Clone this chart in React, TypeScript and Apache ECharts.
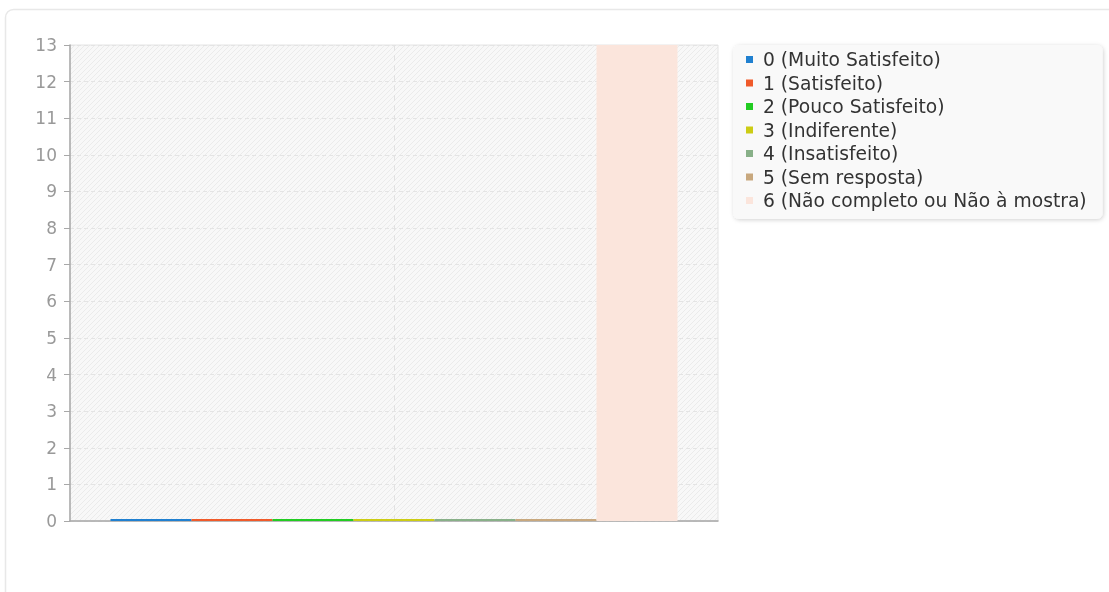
import React, { useEffect, useRef } from "react";
import * as echarts from "echarts";

const categories: string[] = ["Respostas"];
const seriesNames: string[] = [
  "0 (Muito Satisfeito)",
  "1 (Satisfeito)",
  "2 (Pouco Satisfeito)",
  "3 (Indiferente)",
  "4 (Insatisfeito)",
  "5 (Sem resposta)",
  "6 (Não completo ou Não à mostra)",
];
const seriesValues: number[] = [0, 0, 0, 0, 0, 0, 13];
const seriesColors: string[] = [
  "#2080d0",
  "#f05a2a",
  "#22cc22",
  "#cccc14",
  "#88b088",
  "#c8a87e",
  "#fbe5dc",
];
const yTicks: number[] = [0, 13, 1];

const FONT = "DejaVu Sans, Verdana, sans-serif";

const hatchSvg =
  "data:image/svg+xml;utf8," +
  encodeURIComponent(
    '<svg xmlns="http://www.w3.org/2000/svg" width="5" height="5">' +
      '<rect width="5" height="5" fill="#f8f8f8"/>' +
      '<path d="M0 5 L5 0 M-1 1 L1 -1 M4 6 L6 4" stroke="#ebebeb" stroke-width="1"/>' +
      "</svg>"
  );

export default function App() {
  const ref = useRef<HTMLDivElement>(null);
  useEffect(() => {
    if (!ref.current) return;
    const chart = echarts.init(ref.current, undefined, { renderer: "svg" });
    const series: any[] = seriesNames.map((name, i) => ({
      name,
      type: "bar",
      data: [seriesValues[i]],
      barWidth: 81,
      barGap: "0%",
      barMinHeight: 2,
      itemStyle: { color: seriesColors[i] },
      emphasis: { disabled: true },
      ...(i === 3
        ? {
            markLine: {
              silent: true,
              symbol: "none",
              label: { show: false },
              z: 1,
              lineStyle: { color: "#e2e2e2", type: [6, 4], width: 1 },
              data: [{ xAxis: 0 }],
            },
          }
        : {}),
    }));
    chart.setOption({
      animation: false,
      textStyle: { fontFamily: FONT },
      graphic: [
        {
          type: "rect",
          shape: { x: 5.5, y: 9.5, width: 1200, height: 700, r: 8 },
          style: { fill: "none", stroke: "#e8e8e8", lineWidth: 1.5 },
          silent: true,
          z: -10,
        },
      ],
      grid: {
        left: 70,
        top: 45,
        width: 648,
        height: 476,
        show: true,
        borderColor: "#e4e4e4",
        borderWidth: 1,
        backgroundColor: {
          image: hatchSvg,
          repeat: "repeat",
          imageWidth: 5,
          imageHeight: 5,
        } as any,
      },
      legend: {
        orient: "vertical",
        left: 733,
        top: 45,
        padding: [5, 16, 9, 13],
        itemWidth: 7,
        itemHeight: 7,
        itemGap: 4.5,
        icon: "rect",
        backgroundColor: "#f9f9f9",
        borderRadius: 6,
        shadowBlur: 4,
        shadowColor: "rgba(0,0,0,0.18)",
        shadowOffsetX: 1,
        shadowOffsetY: 1,
        selectedMode: false,
        textStyle: {
          fontFamily: FONT,
          fontSize: 18.7,
          color: "#333",
          lineHeight: 18.5,
          padding: [0, 0, 0, 5],
        },
        data: seriesNames,
      },
      xAxis: {
        type: "category",
        data: categories,
        axisLine: { show: true, lineStyle: { color: "#a8a8a8", width: 1.5 } },
        axisTick: { show: false },
        axisLabel: { show: false },
        splitLine: { show: false },
      },
      yAxis: {
        type: "value",
        min: yTicks[0],
        max: yTicks[1],
        interval: yTicks[2],
        axisLine: { show: true, lineStyle: { color: "#a8a8a8", width: 1.5 } },
        axisTick: { show: true, length: 6, lineStyle: { color: "#a8a8a8" } },
        axisLabel: {
          color: "#999",
          fontSize: 17,
          fontFamily: FONT,
          margin: 13,
        },
        splitLine: {
          show: true,
          lineStyle: { color: "#e4e4e4", type: [4, 3], width: 1 },
        },
      },
      series,
    });
    return () => chart.dispose();
  }, []);
  return (
    <div
      ref={ref}
      style={{ position: "fixed", left: 0, top: 0, width: 1109, height: 592 }}
    />
  );
}
